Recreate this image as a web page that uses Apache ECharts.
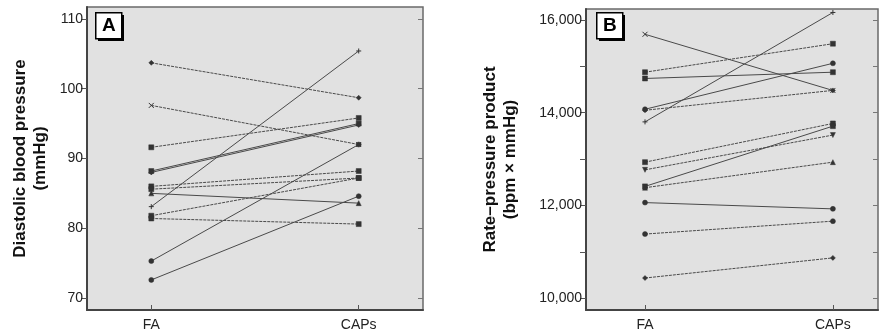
<!DOCTYPE html>
<html>
<head>
<meta charset="utf-8">
<script src="https://cdn.jsdelivr.net/npm/echarts@6/dist/echarts.min.js"></script>
<style>
  html, body { margin: 0; padding: 0; background: #fff; }
  #chart { width: 884px; height: 332px; }
</style>
</head>
<body>
<div id="chart"></div>
<script>
// data (13 subjects, FA vs CAPs)
var categories = ["FA", "CAPs"];
var dbpFA   = [103.7, 97.6, 91.6, 88.2, 88.0, 86.0, 85.6, 85.0, 83.1, 81.8, 81.4, 75.3, 72.6];
var dbpCAPs = [98.7, 92.0, 95.8, 95.0, 94.8, 88.2, 87.2, 83.6, 105.4, 87.2, 80.6, 92.0, 84.6];
var rppFA   = [15690, 14873, 14738, 14075, 14053, 13803, 12935, 12770, 12413, 12385, 12064, 11386, 10439];
var rppCAPs = [14480, 15487, 14873, 15065, 14481, 16160, 13769, 13519, 13711, 12935, 11929, 11664, 10873];
var dbpTicks = [70, 80, 90, 100, 110];
var rppTicks = [10000, 11000, 12000, 13000, 14000, 15000, 16000];
var rppLabels = [10000, 12000, 14000, 16000];

var FONT = "Liberation Sans Narrow, Arial Narrow, sans-serif";
var CROSS = "path://M0,0L10,10M10,0L0,10";
var PLUS = "path://M5,0L5,10M0,5L10,5";

// marker + line look for each subject
var dbpLook = [
  ["diamond", "dashed"], [CROSS, "dashed"], ["rect", "dashed"], ["rect", "solid"],
  ["diamond", "solid"], ["rect", "dashed"], ["rect", "dashed"], ["triangle", "solid"],
  [PLUS, "solid"], ["rect", "dashed"], ["rect", "dashed"], ["circle", "solid"], ["circle", "solid"]
];
var rppLook = [
  [CROSS, "solid"], ["rect", "dashed"], ["rect", "solid"], ["circle", "solid"],
  ["diamond", "dashed"], [PLUS, "solid"], ["rect", "dashed"], ["triangleDown", "dashed"],
  ["rect", "solid"], ["triangle", "dashed"], ["circle", "solid"], ["circle", "dashed"], ["diamond", "dashed"]
];

function makeSeries(fa, caps, look, idx) {
  return fa.map(function (v, i) {
    var sym = look[i][0];
    var rot = 0;
    if (sym == "triangleDown") { sym = "triangle"; rot = 180; }
    var isPath = sym.indexOf("path://") == 0;
    return {
      type: "line",
      xAxisIndex: idx,
      yAxisIndex: idx * 2,
      data: [[0, v], [1, caps[i]]],
      symbol: sym,
      symbolRotate: rot,
      symbolSize: 5,
      silent: true,
      animation: false,
      lineStyle: {
        color: "#4a4a4a",
        width: 1,
        type: look[i][1] == "dashed" ? [3, 1] : "solid"
      },
      itemStyle: {
        color: isPath ? "transparent" : "#333",
        borderColor: "#333",
        borderWidth: isPath ? 1 : 0.5
      }
    };
  });
}

function xAxisCfg(grid, min, max) {
  return {
    type: "value",
    gridIndex: grid,
    min: min,
    max: max,
    axisLine: { show: true, onZero: false, lineStyle: { color: "#444", width: 2 } },
    axisTick: { show: true, inside: true, length: 5, customValues: [0, 1], lineStyle: { color: "#555" } },
    axisLabel: {
      customValues: [0, 1],
      formatter: function (v) { return categories[Math.round(v)]; },
      color: "#222", fontFamily: FONT, fontSize: 14, margin: 8
    },
    splitLine: { show: false }
  };
}

function yAxisCfg(grid, min, max, ticks, labels, name, gap, fmt) {
  return [{
    type: "value",
    gridIndex: grid,
    min: min,
    max: max,
    name: name,
    nameLocation: "middle",
    nameRotate: 90,
    nameGap: gap,
    nameTextStyle: {
      fontFamily: FONT, fontWeight: "bold", fontSize: 17, color: "#111",
      lineHeight: 20, align: "center"
    },
    axisLine: { show: true, onZero: false, lineStyle: { color: "#444", width: 2 } },
    axisTick: { show: true, length: 6, customValues: ticks, lineStyle: { color: "#555" } },
    axisLabel: {
      customValues: labels, formatter: fmt,
      color: "#222", fontFamily: FONT, fontSize: 14, margin: 4
    },
    splitLine: { show: false }
  }, {
    type: "value",
    gridIndex: grid,
    position: "right",
    min: min,
    max: max,
    axisLine: { show: false, onZero: false },
    axisTick: { show: true, inside: true, length: 5, customValues: ticks, lineStyle: { color: "#777" } },
    axisLabel: { show: false },
    splitLine: { show: false }
  }];
}

function badge(x, y, letter) {
  return [
    { type: "rect", left: x + 3, top: y + 3, shape: { width: 26, height: 26 }, style: { fill: "#000" }, z: 10 },
    { type: "rect", left: x, top: y, shape: { width: 26, height: 26 }, style: { fill: "#fff", stroke: "#000", lineWidth: 1.5 }, z: 11 },
    { type: "text", left: x + 7, top: y + 4, style: { text: letter, fontFamily: FONT, fontWeight: "bold", fontSize: 19, fill: "#000" }, z: 12 }
  ];
}

var chart = echarts.init(document.getElementById("chart"));
var option = {
  animation: false,
  grid: [
    { left: 87, top: 7, width: 336, height: 305, show: true, backgroundColor: "#e1e1e1", borderColor: "#6a6a6a", borderWidth: 1.5 },
    { left: 586, top: 9, width: 292, height: 303, show: true, backgroundColor: "#e1e1e1", borderColor: "#6a6a6a", borderWidth: 1.5 }
  ],
  xAxis: [xAxisCfg(0, -0.31, 1.31), xAxisCfg(1, -0.314, 1.24)],
  yAxis: yAxisCfg(0, 68.29, 111.7, dbpTicks, dbpTicks, "Diastolic blood pressure\n(mmHg)", 37,
      function (v) { return String(v); })
    .concat(yAxisCfg(1, 9750, 16235, rppTicks, rppLabels, "Rate\u2013pressure product\n(bpm \u00d7 mmHg)", 66,
      function (v) { return v.toLocaleString("en-US"); })),
  graphic: badge(95, 12, "A").concat(badge(596, 12, "B")),
  series: makeSeries(dbpFA, dbpCAPs, dbpLook, 0).concat(makeSeries(rppFA, rppCAPs, rppLook, 1))
};
chart.setOption(option);
</script>
</body>
</html>
